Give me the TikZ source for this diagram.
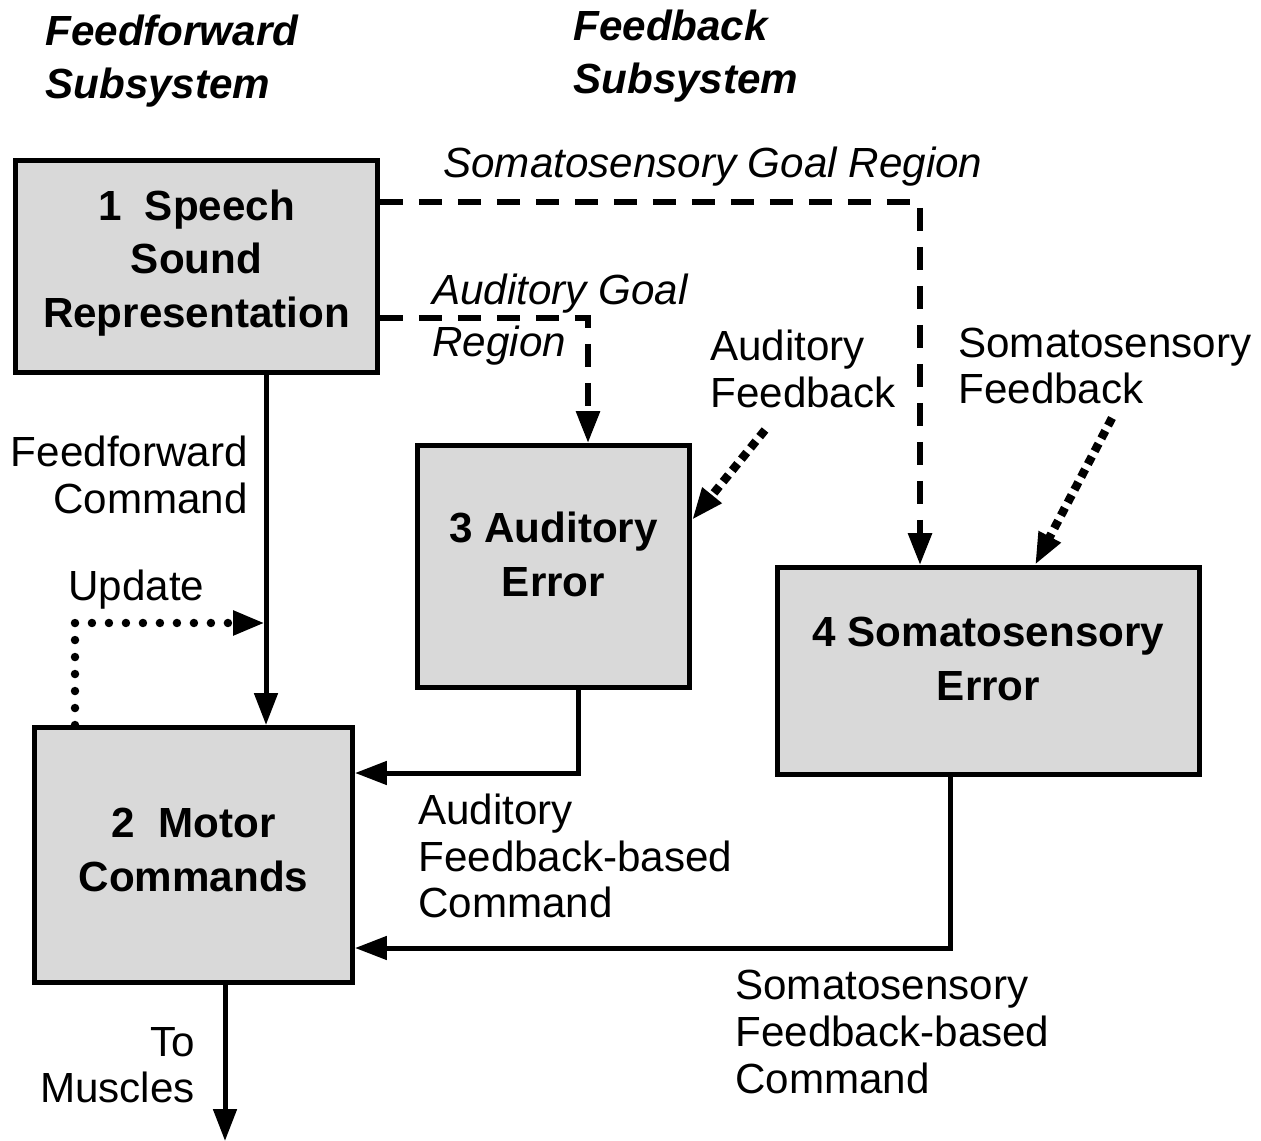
\documentclass[tikz,border=0pt]{standalone}
\usepackage{fontspec}
\setmainfont{Liberation Sans}
\usetikzlibrary{arrows.meta}

\begin{document}
\begin{tikzpicture}[x=0.02cm,y=-0.02cm,
    module/.style={draw,line width=0.1cm,fill=black!15,align=center,inner sep=0pt,
                   font=\fontsize{24}{30.5}\selectfont\bfseries},
    caption/.style={align=left,inner sep=0pt,font=\fontsize{24}{26.5}\selectfont},
    ital/.style={caption,font=\fontsize{24}{29.5}\selectfont\itshape},
    heading/.style={align=left,inner sep=0pt,font=\fontsize{24}{30}\selectfont\bfseries\itshape},
    tip/.style={-{Triangle[length=0.64cm,width=0.46cm]}},
    cmd/.style={tip,line width=0.1cm},
    goal/.style={tip,line width=0.12cm,dash pattern=on 0.46cm off 0.32cm},
    upd/.style={tip,line width=0.17cm,line cap=round,dash pattern=on 0pt off 0.34cm},
    sense/.style={tip,line width=0.17cm,dash pattern=on 0.17cm off 0.12cm}]
  \useasboundingbox (0,0) rectangle (1261,1141);

  % the four modules
  \foreach \n/\x/\y/\w/\h/\d/\t in {1/196.5/266.5/7.24/4.24/0.32/{1\ \ Speech\\Sound\\Representation},
                                    2/193.5/855/6.36/5.1/0.2/{2\ \ Motor\\Commands},
                                    3/553.5/566.5/5.44/4.84/0.5/{3 Auditory\\Error},
                                    4/988.5/671/8.44/4.14/0.5/{4 Somatosensory\\Error}} {
    \node[module,minimum width=\w cm,minimum height=\h cm,text depth=\d cm] (box\n) at (\x,\y) {\t};
  }

  \node[heading,anchor=west] (ffhead) at (45,61) {Feedforward\\Subsystem};
  \node[heading,anchor=west] (fbhead) at (573,56) {Feedback\\Subsystem};

  \node[ital,anchor=west] (sgoal) at (443,167) {Somatosensory Goal Region};
  \node[ital,anchor=west] (agoal) at (432,320) {Auditory Goal\\Region};
  \node[caption,anchor=west] (afbtxt) at (710,369) {Auditory\\Feedback};
  \node[caption,anchor=west] (sfbtxt) at (958,366) {Somatosensory\\Feedback};
  \node[caption,anchor=east,align=right] (fftxt) at (248,475) {Feedforward\\Command};
  \node[caption,anchor=west] (updtxt) at (68,590) {Update};
  \node[caption,anchor=west] (acmd) at (418,856) {Auditory\\Feedback-based\\Command};
  \node[caption,anchor=west] (scmd) at (735,1032) {Somatosensory\\Feedback-based\\Command};
  \node[caption,anchor=east,align=right] (musctxt) at (195,1065) {To\\Muscles};

  % feedforward path
  \draw[cmd] (box1.south -| 266,0) -- (box2.north -| 266,0);
  \coordinate (updjoin) at (265,623);
  \draw[upd] (box2.north -| 75,0) |- (updjoin);

  % goal regions
  \draw[goal] (box1.east |- 0,318) -| (box3.north -| 588,0);
  \draw[goal] (box1.east |- 0,202) -| (box4.north -| 920,0);

  % sensory feedback
  \coordinate (afbsrc) at (765,430);
  \draw[sense] (afbsrc) -- (box3.east |- 0,520);
  \coordinate (sfbsrc) at (1112,418);
  \draw[sense] (sfbsrc) -- (box4.north -| 1035,0);

  % feedback-based commands
  \draw[cmd] (box3.south -| 578,0) |- (box2.east |- 0,773);
  \draw[cmd] (box4.south -| 950,0) |- (box2.east |- 0,948);
  \coordinate (muscles) at (225,1141);
  \draw[cmd] (box2.south -| 225,0) -- (muscles);
\end{tikzpicture}
\end{document}
